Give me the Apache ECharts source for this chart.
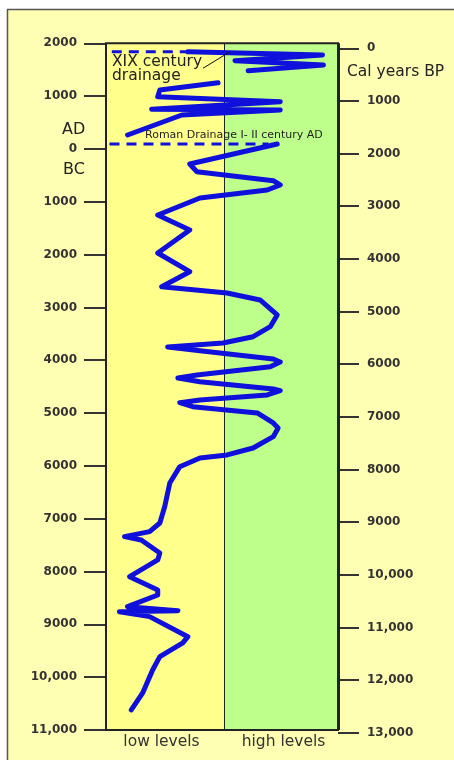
<!DOCTYPE html>
<html><head><meta charset="utf-8">
<script src="https://cdn.jsdelivr.net/npm/echarts@6/dist/echarts.min.js"></script>
<style>html,body{margin:0;padding:0;background:#fff}#c{width:454px;height:760px}</style>
</head><body><div id="c"></div>
<script>
// ---- Data (level: 0 = very low .. 100 = very high; year: AD positive, BC negative) ----
const leftTickValues = [2000,1000,0,-1000,-2000,-3000,-4000,-5000,-6000,-7000,-8000,-9000,-10000,-11000];
const leftTickLabels = ['2000','1000','0','1000','2000','3000','4000','5000','6000','7000','8000','9000','10,000','11,000'];
const rightTickValues = [0,1000,2000,3000,4000,5000,6000,7000,8000,9000,10000,11000,12000,13000];
const rightTickLabels = ['0','1000','2000','3000','4000','5000','6000','7000','8000','9000','10,000','11,000','12,000','13,000'];
const categoryNames = ['low levels','high levels'];
const categoryBoundary = 51; // level where "low" turns into "high"

// XIX century segment
const xixLevel = [35.3, 93.3, 55.6, 93.7, 61.3];
const xixYear  = [1841, 1779, 1671, 1589, 1481];
// Medieval segment
const medLevel = [48.3, 23.2, 22.3, 75.1, 19.7, 75.1, 32.7, 9.3];
const medYear  = [1254, 1116, 989, 895, 751, 737, 643, 264];
// Main segment (Roman drainage to early Holocene)
const mainLevel = [73.8,36.1,39.2,72.1,75.1,69.5,40.5,22.3,36.1,22.3,36.1,24,52.2,66.4,73.8,70.8,63.4,50.4,26.6,40.5,
  72.1,75.1,70.8,39.2,31,40.5,72.1,75.1,69.5,40.5,31.8,37.4,65.2,72.1,74.2,72.1,63.4,52.2,40.5,31.8,
  27.5,25.3,23.2,18.8,8,15.2,23.2,22.3,10.2,22.3,22.3,9.3,31,5.8,18.8,35.3,33.1,23.2,20.1,15.8,10.9];
const mainYear = [94,-285,-431,-601,-682,-777,-929,-1250,-1534,-1970,-2324,-2608,-2727,-2859,-3143,-3365,-3554,-3673,-3749,-3819,
  -3976,-4033,-4122,-4279,-4336,-4406,-4544,-4576,-4658,-4752,-4803,-4879,-4998,-5188,-5282,-5447,-5661,-5793,-5850,-6015,
  -6324,-6772,-7081,-7245,-7340,-7403,-7649,-7781,-8097,-8349,-8444,-8665,-8741,-8760,-8854,-9233,-9352,-9612,-9863,-10299,-10621];
// Drainage markers
const xixDrainYear = 1841, xixDrainLevels = [2.5, 36];
const romanDrainYear = 94, romanDrainLevels = [1.5, 70];
const pointerLevel = [41.8, 53.5], pointerYear = [1527, 1841];

const zip = (xs, ys) => xs.map((x, i) => [x, ys[i]]);

const BLUE = '#1010dc';
const chart = echarts.init(document.getElementById('c'));
const txt = '#222';
const font = 'DejaVu Sans';

chart.setOption({
  backgroundColor: '#ffffff',
  animation: false,
  graphic: [
    { type: 'rect', z: -10, shape: { x: 7, y: 9, width: 447, height: 751 }, style: { fill: '#ffffb4' } },
    { type: 'line', z: -9, shape: { x1: 7, y1: 9.5, x2: 454, y2: 9.5 }, style: { stroke: '#555', lineWidth: 1.5 } },
    { type: 'line', z: -9, shape: { x1: 7.5, y1: 9, x2: 7.5, y2: 760 }, style: { stroke: '#555', lineWidth: 1.5 } },
    { type: 'text', z: 10, x: 112, y: 62, style: { text: 'XIX century', font: '15.5px ' + font, fill: txt, align: 'left', verticalAlign: 'middle' } },
    { type: 'text', z: 10, x: 112, y: 75.5, style: { text: 'drainage', font: '15.5px ' + font, fill: txt, align: 'left', verticalAlign: 'middle' } },
    { type: 'text', z: 10, x: 347, y: 72, style: { text: 'Cal years BP', font: '15.5px ' + font, fill: txt, align: 'left', verticalAlign: 'middle' } },
    { type: 'text', z: 10, x: 62, y: 130, style: { text: 'AD', font: '16px ' + font, fill: txt, align: 'left', verticalAlign: 'middle' } },
    { type: 'text', z: 10, x: 63, y: 170, style: { text: 'BC', font: '16px ' + font, fill: txt, align: 'left', verticalAlign: 'middle' } },
    { type: 'text', z: 10, x: 145, y: 135.5, style: { text: 'Roman Drainage I- II century AD', font: '11px ' + font, fill: txt, align: 'left', verticalAlign: 'middle' } },
    { type: 'text', z: 10, x: 161.5, y: 742, style: { text: categoryNames[0], font: '15.5px ' + font, fill: '#333', align: 'center', verticalAlign: 'middle' } },
    { type: 'text', z: 10, x: 283.5, y: 742, style: { text: categoryNames[1], font: '15.5px ' + font, fill: '#333', align: 'center', verticalAlign: 'middle' } }
  ],
  grid: [
    { left: 106, right: 116, top: 43.3, bottom: 30, show: true, borderColor: '#222', borderWidth: 2, z: 3, backgroundColor: 'transparent' },
    { left: 106, right: 116, top: 48.3, bottom: 27.3, show: false }
  ],
  xAxis: [
    { gridIndex: 0, type: 'value', min: 0, max: 100, show: false, axisLine: { onZero: false } },
    { gridIndex: 1, type: 'value', min: 0, max: 100, show: false, axisLine: { onZero: false } }
  ],
  yAxis: [
    { gridIndex: 0, type: 'value', min: -11000, max: 2000, interval: 1000, position: 'left',
      axisLine: { show: false, onZero: false }, splitLine: { show: false },
      axisTick: { show: true, length: 22, lineStyle: { color: '#333', width: 2 } },
      axisLabel: { margin: 29, color: '#333', fontFamily: font, fontWeight: 'bold', fontSize: 12,
        formatter: v => { const i = leftTickValues.indexOf(v); return i >= 0 ? leftTickLabels[i] : ''; } } },
    { gridIndex: 1, type: 'value', position: 'right', inverse: true, min: 0, max: 13000, interval: 1000,
      axisLine: { show: false, onZero: false }, splitLine: { show: false },
      axisTick: { show: true, length: 21, lineStyle: { color: '#333', width: 2 } },
      axisLabel: { margin: 29, color: '#333', fontFamily: font, fontWeight: 'bold', fontSize: 12,
        formatter: v => { const i = rightTickValues.indexOf(v); return i >= 0 ? rightTickLabels[i] : ''; } } }
  ],
  series: [
    { type: 'line', xAxisIndex: 0, yAxisIndex: 0, data: [], z: 1, silent: true,
      markArea: { silent: true, data: [
        [{ xAxis: 0, yAxis: -11000, itemStyle: { color: '#ffff8c' } }, { xAxis: categoryBoundary, yAxis: 2000 }],
        [{ xAxis: categoryBoundary, yAxis: -11000, itemStyle: { color: '#beff8c' } }, { xAxis: 100, yAxis: 2000 }]
      ] },
      markLine: { silent: true, symbol: 'none', label: { show: false }, data: [
        { xAxis: categoryBoundary, lineStyle: { color: '#222', width: 1, type: 'solid' } },
        { xAxis: 100, lineStyle: { color: '#222', width: 3, type: 'solid' } }
      ] } },
    { type: 'line', xAxisIndex: 0, yAxisIndex: 0, z: 4, symbol: 'none', silent: true,
      data: zip(xixDrainLevels, [xixDrainYear, xixDrainYear]), lineStyle: { color: BLUE, width: 3, type: [10, 7] } },
    { type: 'line', xAxisIndex: 0, yAxisIndex: 0, z: 4, symbol: 'none', silent: true,
      data: zip(romanDrainLevels, [romanDrainYear, romanDrainYear]), lineStyle: { color: BLUE, width: 3, type: [10, 7] } },
    { type: 'line', xAxisIndex: 0, yAxisIndex: 0, z: 5, symbol: 'none', silent: true,
      data: zip(xixLevel, xixYear), lineStyle: { color: BLUE, width: 5, join: 'round', cap: 'round' } },
    { type: 'line', xAxisIndex: 0, yAxisIndex: 0, z: 5, symbol: 'none', silent: true,
      data: zip(medLevel, medYear), lineStyle: { color: BLUE, width: 5, join: 'round', cap: 'round' } },
    { type: 'line', xAxisIndex: 0, yAxisIndex: 0, z: 5, symbol: 'none', silent: true,
      data: zip(mainLevel, mainYear), lineStyle: { color: BLUE, width: 5, join: 'round', cap: 'round' } },
    { type: 'line', xAxisIndex: 0, yAxisIndex: 0, z: 6, symbol: 'none', silent: true,
      data: zip(pointerLevel, pointerYear), lineStyle: { color: '#111', width: 1 } }
  ]
});
</script>
</body></html>
